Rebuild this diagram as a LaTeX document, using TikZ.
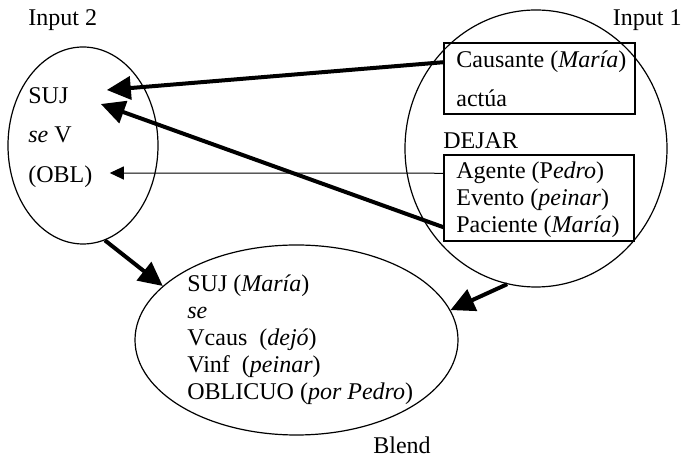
\documentclass[tikz,border=0pt]{standalone}
\usepackage{fontspec}
\setmainfont{Liberation Serif}
\usetikzlibrary{arrows.meta,shapes.geometric}
\tikzset{
  txt/.style={anchor=base west, inner sep=0pt},
  space/.style={draw, ellipse, line width=0.6pt, inner sep=0pt},
  frame/.style={draw, line width=0.6pt, inner sep=0pt},
  bigarrow/.style={line width=2pt, -{Triangle[length=12pt,width=11.5pt]}},
  thinarrow/.style={line width=0.5pt, -{Triangle[length=7pt,width=6.5pt]}},
}
\begin{document}
\begin{tikzpicture}[x=0.5pt, y=-0.5pt, font=\fontsize{12pt}{14pt}\selectfont]
    \useasboundingbox (0,0) rectangle (686,458);
    % the three spaces
    \node[space, minimum width=75pt, minimum height=98.5pt] (in2) at (83,145.5) {};
    \node[space, minimum width=131pt, minimum height=138.5pt] (in1) at (536,148.5) {};
    \node[space, minimum width=161.5pt, minimum height=95pt] (blend) at (296.5,340) {};
    \node[txt] (lab2) at (28,26) {Input 2};
    \node[txt, anchor=base east] (lab1) at (682,26) {Input 1};
    \node[txt] (labb) at (373,454) {Blend};

    % Input 2
    \node[txt] (suj) at (28,104) {SUJ};
    \node[txt] (sev) at (28,143) {\textit{se} V};
    \node[txt] (obl) at (28,183) {(OBL)};

    % Input 1
    \node[frame, minimum width=95.5pt, minimum height=35.5pt] (causa) at (539.5,78.5) {};
    \node[frame, minimum width=95pt, minimum height=43pt] (dejarbox) at (539,198) {};
    \node[txt] (causante) at (456,68) {Causante (\textit{María})};
    \node[txt] (actua) at (456,107) {actúa};
    \node[txt] (dejar) at (443,149) {DEJAR};
    \node[txt] (agente) at (456,179) {Agente (P\textit{edro})};
    \node[txt] (evento) at (456,206) {Evento (\textit{peinar})};
    \node[txt] (paciente) at (456,233) {Paciente (\textit{María})};

    % Blend
    \node[txt] (bsuj) at (187,292) {SUJ (\textit{María})};
    \node[txt] (bse) at (187,319) {\textit{se}};
    \node[txt] (bvcaus) at (187,346) {Vcaus~ (\textit{dejó})};
    \node[txt] (bvinf) at (187,373) {Vinf~ (\textit{peinar})};
    \node[txt] (bobl) at (187,400) {OBLICUO (\textit{por Pedro})};

    % mappings
    \draw[bigarrow] (causa.west |- causante.west) -- ([shift={(19pt,7pt)}]suj.base east);
    \draw[bigarrow] (dejarbox.west |- paciente.west) -- ([shift={(16pt,0pt)}]suj.base east);
    \draw[thinarrow] (dejarbox.west |- agente.west) -- ([shift={(8.5pt,5pt)}]obl.base east);
    \draw[bigarrow] (in2.-77) -- (blend.158);
    \draw[bigarrow] (in1.-102) -- (blend.11);
\end{tikzpicture}
\end{document}
